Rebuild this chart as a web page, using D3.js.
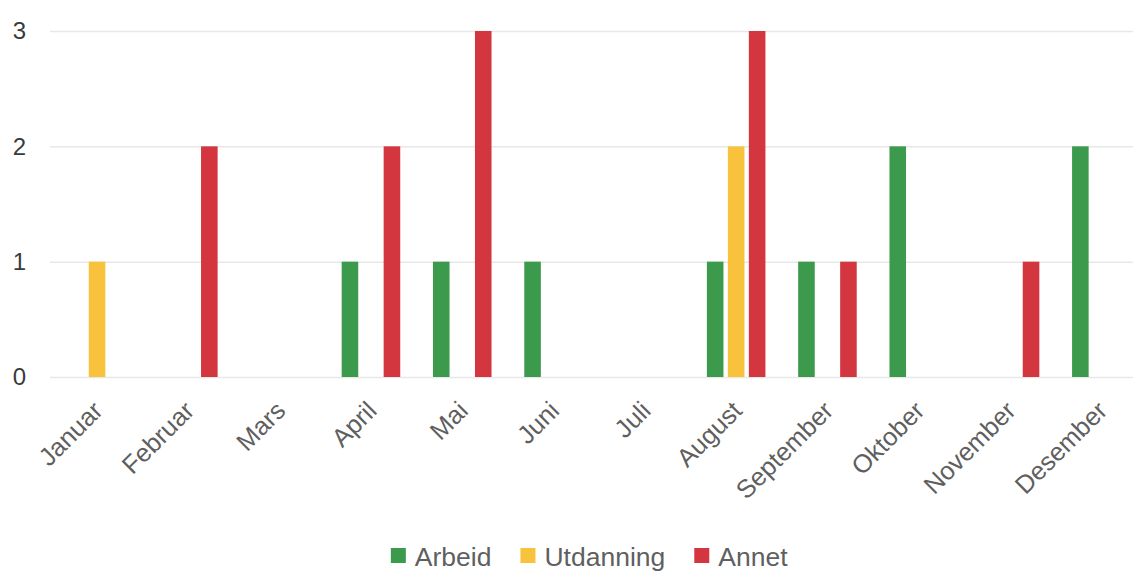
<!DOCTYPE html>
<html>
<head>
<meta charset="utf-8">
<script src="https://cdn.jsdelivr.net/npm/d3@7"></script>
<style>
  body { margin: 0; background: #fff; }
  svg { display: block; font-family: "Liberation Sans", Arial, sans-serif; }
</style>
</head>
<body>
<div id="chart"></div>
<script>
// months on the x axis
var months = ["Januar", "Februar", "Mars", "April", "Mai", "Juni",
  "Juli", "August", "September", "Oktober", "November", "Desember"]

var seriesNames = ["Arbeid", "Utdanning", "Annet"]
var seriesColors = ["#3c9a4c", "#f8c23d", "#d3363e"]

var arbeid    = [0, 0, 0, 1, 1, 1, 0, 1, 1, 2, 0, 2]
var utdanning = [1, 0, 0, 0, 0, 0, 0, 2, 0, 0, 0, 0]
var annet     = [0, 2, 0, 2, 3, 0, 0, 3, 1, 0, 1, 0]

var yTicks = [0, 1, 2, 3]

var width = 1133, height = 573

var svg = d3.select('#chart').append('svg')
  .attr('width', width)
  .attr('height', height)

var values = [arbeid, utdanning, annet]
var rows = months.map((m, i) => ({
  month: m,
  vals: seriesNames.map((s, j) => ({ key: s, value: values[j][i], color: seriesColors[j] }))
}))

var x0 = d3.scaleBand()
  .domain(months)
  .range([51.4, 1147])

var x1 = d3.scaleBand()
  .domain(seriesNames)
  .range([0, x0.bandwidth()])
  .paddingInner(0.21)
  .paddingOuter(0.78)

var yMap = d3.scaleLinear()
  .domain([0, 3])
  .range([377, 31])

// grid + y labels
var yAxis = d3.axisLeft(yMap)
  .tickValues(yTicks)
  .tickSize(-(width - 50))
  .tickPadding(24)
  .tickFormat(d3.format('d'))

var gY = svg.append('g')
  .attr('transform', 'translate(50,0)')
  .call(yAxis)

gY.select('.domain').remove()
gY.selectAll('.tick line')
  .style('stroke', '#e8e8e8')
  .style('stroke-width', 1.5)
gY.selectAll('.tick text')
  .style('font-size', '24px')
  .style('fill', '#3a3a3a')

// bars
var gBars = svg.append('g')

var gGroup = gBars.selectAll('g').data(rows).enter()
  .append('g')
  .attr('transform', d => 'translate(' + [x0(d.month), 0] + ')')

gGroup.selectAll('rect')
  .data(d => d.vals.filter(v => v.value > 0))
  .enter().append('rect')
  .attr('x', d => x1(d.key))
  .attr('y', d => yMap(d.value))
  .attr('width', x1.bandwidth())
  .attr('height', d => yMap(0) - yMap(d.value))
  .style('fill', d => d.color)

// x axis labels
var xAxis = d3.axisBottom(x0)
  .tickSize(0)

var gX = svg.append('g')
  .attr('transform', 'translate(0,' + yMap(0) + ')')
  .call(xAxis)

gX.select('.domain').remove()
gX.selectAll('.tick text')
  .attr('x', 0)
  .attr('y', 0)
  .attr('dy', '0.35em')
  .attr('transform', 'translate(1,29) rotate(-45)')
  .style('text-anchor', 'end')
  .style('font-size', '25.5px')
  .style('fill', '#5f5f5f')

// legend
var gLegend = svg.append('g')
var legendX = 0
seriesNames.forEach((s, i) => {
  var item = gLegend.append('g').attr('transform', 'translate(' + [legendX, 0] + ')')
  item.append('rect')
    .attr('x', 0)
    .attr('y', -18)
    .attr('width', 15)
    .attr('height', 15)
    .style('fill', seriesColors[i])
  var t = item.append('text')
    .attr('x', 24)
    .attr('y', 0)
    .style('font-size', '26.5px')
    .style('fill', '#5f5f5f')
    .text(s)
  legendX += 24 + t.node().getComputedTextLength() + 29
})
var lb = gLegend.node().getBBox()
gLegend.attr('transform', 'translate(' + [589.5 - lb.width / 2, 566] + ')')
</script>
</body>
</html>
